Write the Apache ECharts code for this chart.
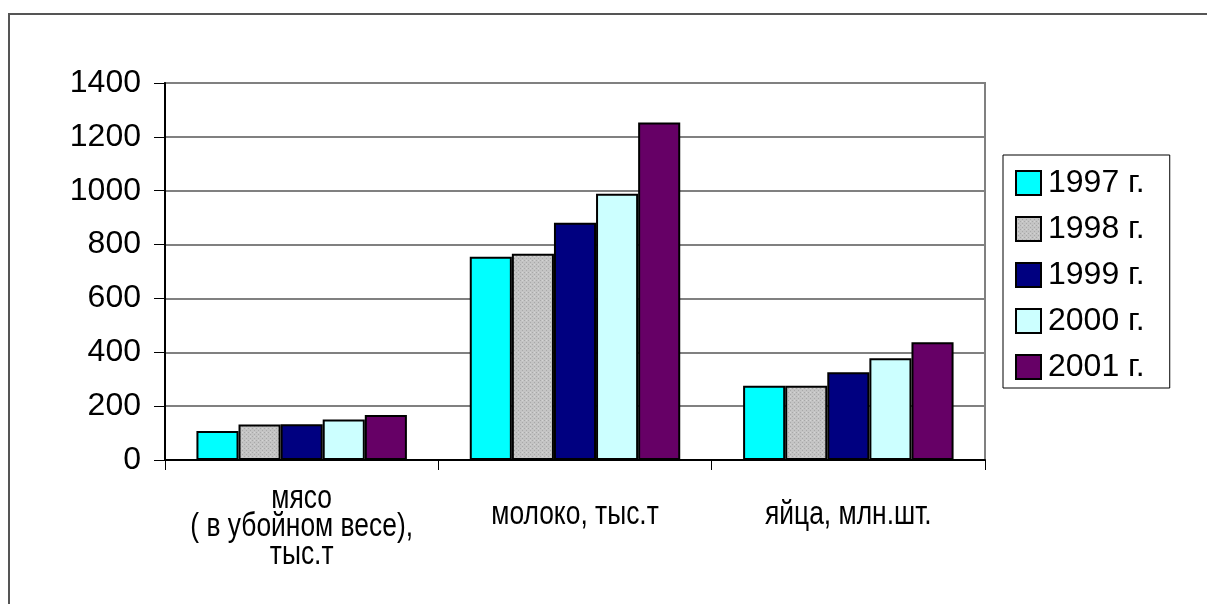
<!DOCTYPE html>
<html>
<head>
<meta charset="utf-8">
<script src="https://cdn.jsdelivr.net/npm/echarts@6/dist/echarts.min.js"></script>
<style>
  html, body { margin: 0; padding: 0; background: #fff; }
  #chart { width: 1207px; height: 604px; }
</style>
</head>
<body>
<div id="chart"></div>
<script>
// Production by product group, 1997–2001
const categories = ['мясо\n( в убойном весе),\nтыс.т', 'молоко, тыс.т', 'яйца, млн.шт.'];
const years = ['1997 г.', '1998 г.', '1999 г.', '2000 г.', '2001 г.'];
const v1997 = [108, 755, 276];
const v1998 = [132, 766, 276];
const v1999 = [133, 881, 326];
const v2000 = [150, 989, 378];
const v2001 = [167, 1253, 437];
const yTicks = [0, 200, 400, 600, 800, 1000, 1200, 1400];

// stippled grey fill for the 1998 series
function stipple() {
  const c = document.createElement('canvas');
  c.width = 4; c.height = 4;
  const g = c.getContext('2d');
  g.fillStyle = '#c4c4c4';
  g.fillRect(0, 0, 4, 4);
  g.fillStyle = '#a8a8a8';
  g.fillRect(0, 0, 1, 1);
  g.fillRect(2, 2, 1, 1);
  g.fillStyle = '#d4d4d4';
  g.fillRect(2, 0, 1, 1);
  return { image: c, repeat: 'repeat' };
}

const fills = ['#00ffff', stipple(), '#000080', '#ccffff', '#660066'];
const seriesData = [v1997, v1998, v1999, v2000, v2001];

const frame = {
  type: 'rect',
  shape: { x: 9, y: 14, width: 1400, height: 800 },
  style: { fill: 'none', stroke: '#555', lineWidth: 2 },
  silent: true
};

const chart = echarts.init(document.getElementById('chart'), null, { renderer: 'canvas' });
chart.setOption({
  animation: false,
  backgroundColor: '#fff',
  graphic: [frame],
  grid: {
    left: 165, right: 222, top: 83, bottom: 144,
    show: true, borderColor: '#808080', borderWidth: 2, backgroundColor: 'transparent'
  },
  legend: {
    orient: 'vertical',
    left: 1003, top: 155,
    padding: [12, 25, 5, 12],
    itemGap: 14,
    itemWidth: 25, itemHeight: 24,
    borderColor: '#000', borderWidth: 1,
    icon: 'rect',
    itemStyle: { borderColor: '#000', borderWidth: 2 },
    textStyle: {
      fontFamily: 'Liberation Sans, Arial, sans-serif',
      fontSize: 32, lineHeight: 30, color: '#000',
      padding: [0, 0, 0, 2]
    },
    data: years
  },
  xAxis: {
    type: 'category',
    data: categories,
    axisLine: { lineStyle: { color: '#000', width: 2 } },
    axisTick: { show: true, length: 10, lineStyle: { color: '#000', width: 1 } },
    // category names are drawn below as condensed text
    axisLabel: { show: false }
  },
  yAxis: {
    type: 'value',
    min: 0, max: 1400, interval: 200,
    axisLine: { show: true, lineStyle: { color: '#000', width: 2 } },
    axisTick: { show: true, length: 11, lineStyle: { color: '#000', width: 1 } },
    splitLine: { lineStyle: { color: '#808080', width: 2 } },
    axisLabel: {
      margin: 24,
      fontFamily: 'Liberation Sans, Arial, sans-serif',
      fontSize: 32,
      color: '#000',
      formatter: v => yTicks.includes(v) ? String(v) : ''
    }
  },
  series: years.map((name, i) => ({
    name,
    type: 'bar',
    data: seriesData[i],
    barGap: '0%',
    barCategoryGap: '23%',
    itemStyle: { color: fills[i], borderColor: '#000', borderWidth: 2 }
  }))
});

// Condensed category names, centred under each category on the axis scale
const axisY = chart.convertToPixel({ yAxisIndex: 0 }, 0);
const labels = categories.map((name, i) => {
  const cx = chart.convertToPixel({ xAxisIndex: 0 }, i);
  const lines = name.split('\n').length;
  return {
    type: 'text',
    x: cx,
    y: axisY + 55 + (lines - 1) * 6,
    scaleX: 0.8,
    silent: true,
    style: {
      text: name,
      font: '33px "Liberation Sans", Arial, sans-serif',
      lineHeight: 28,
      fill: '#000',
      align: 'center',
      verticalAlign: 'middle'
    }
  };
});
chart.setOption({ graphic: [frame].concat(labels) }, { replaceMerge: ['graphic'] });
</script>
</body>
</html>
